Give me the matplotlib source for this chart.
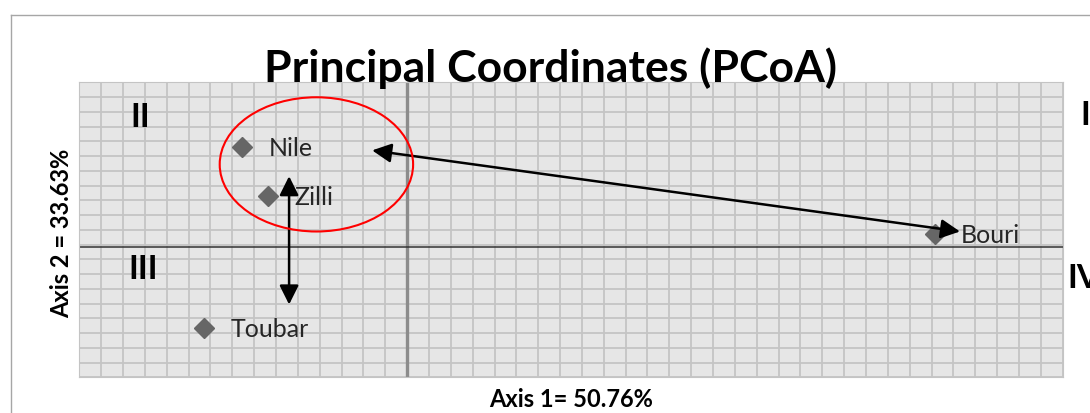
import numpy as np
import matplotlib.pyplot as plt
from matplotlib.patches import Ellipse
from matplotlib.lines import Line2D

# Dane PCoA
names = ['Nile', 'Zilli', 'Toubar', 'Bouri']
axis1 = [-0.151, -0.127, -0.186, 0.483]
axis2 = [0.136, 0.069, -0.110, 0.018]

# Adnotacje (strzalki i elipsa)
arrow_vert = [(-0.108, -0.078), (-0.108, 0.096)]
arrow_diag = [(-0.032, 0.131), (0.506, 0.021)]
ellipse_xy = (-0.083, 0.112)
ellipse_wh = (0.177, 0.182)

W, H = 1090, 414
fig = plt.figure(figsize=(W / 100, H / 100), dpi=100)
plt.rcParams['font.family'] = ['Lato', 'DejaVu Sans']

ax = fig.add_axes([79.3 / W, 1 - 378.3 / H, (1062.7 - 79.3) / W, (378.3 - 83.3) / H])
ax.set_facecolor('#e6e6e6')
ax.set_xlim(-0.3, 0.6)
ax.set_ylim(-0.1767, 0.2233)
ax.set_xticks(np.linspace(-0.3, 0.6, 46))
ax.set_yticks(np.linspace(-0.1767, 0.2233, 21))
ax.tick_params(length=0, labelbottom=False, labelleft=False)
ax.grid(True, color='#c4c4c4', lw=1.3)
ax.set_axisbelow(True)
for s in ax.spines.values():
    s.set_color('#c4c4c4')

ax.axvline(0, color='#8c8c8c', lw=2.4, zorder=1.5)
ax.axhline(0, color='#333333', lw=1.1, zorder=1.5)

ax.plot(axis1, axis2, 'D', color='#666666', markersize=10, linestyle='none', zorder=3)
for n, x, y in zip(names, axis1, axis2):
    ax.annotate(n, (x, y), xytext=(19, -6), textcoords='offset points',
                fontsize=18, color='#262626', va='baseline', ha='left')

style = '<|-|>,head_length=0.4,head_width=0.2'
for a in (arrow_vert, arrow_diag):
    ax.annotate('', xy=a[1], xytext=a[0],
                arrowprops=dict(arrowstyle=style, color='black', lw=1.8,
                                mutation_scale=29, shrinkA=0, shrinkB=0),
                zorder=4)

ax.add_patch(Ellipse(ellipse_xy, ellipse_wh[0], ellipse_wh[1], fill=False,
                     edgecolor='red', lw=1.5, zorder=4))

# Tytul i opisy osi
fig.text(550 / W, 1 - 82 / H, 'Principal Coordinates (PCoA)', fontsize=32,
         fontweight='bold', ha='center', va='baseline')
fig.text(571 / W, 1 - 407 / H, 'Axis 1= 50.76%', fontsize=17,
         fontweight='bold', ha='center', va='baseline')
fig.text(62 / W, 1 - 233 / H, 'Axis 2 = 33.63%', fontsize=17,
         fontweight='bold', ha='center', va='center', rotation=90)

# Cwiartki
for t, x, y in [('II', 130, 127), ('III', 128, 279), ('I', 1080, 125), ('IV', 1067, 288)]:
    fig.text(x / W, 1 - y / H, t, fontsize=24, fontweight='bold',
             ha='left', va='baseline')

# Ramka wykresu
fig.add_artist(Line2D([10.5 / W, 1.1], [1 - 15.5 / H] * 2, color='#a6a6a6', lw=1))
fig.add_artist(Line2D([10.5 / W] * 2, [-0.1, 1 - 15.5 / H], color='#a6a6a6', lw=1))

fig.savefig('out.png', dpi=100)
